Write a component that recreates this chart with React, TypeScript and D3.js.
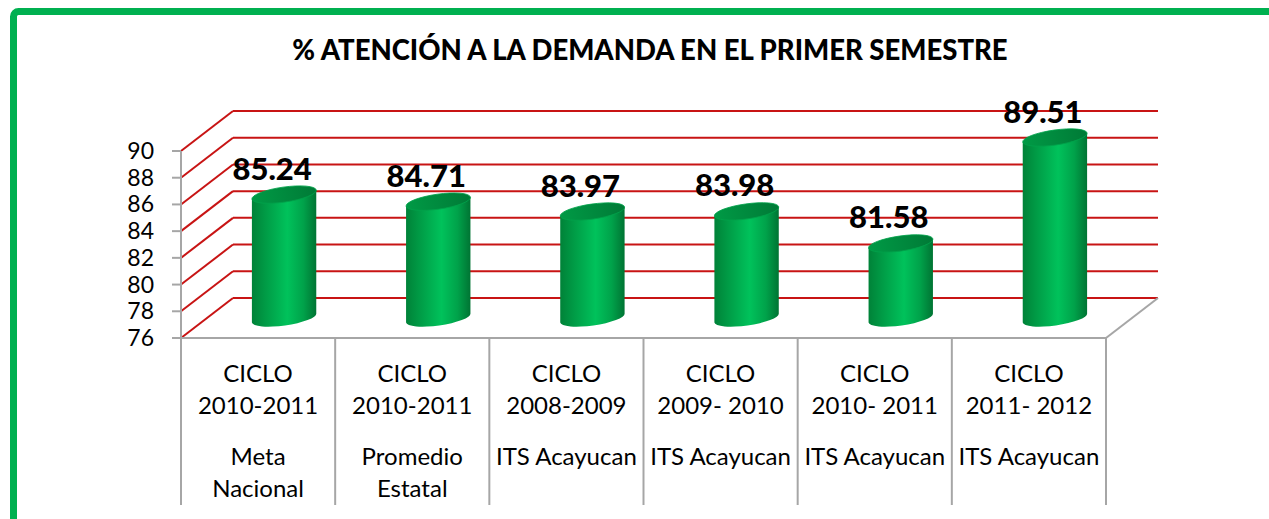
import React from "react";
import * as d3 from "d3";

const title = "% ATENCIÓN A LA DEMANDA EN EL PRIMER SEMESTRE";
const cycleWord = ["CICLO", "CICLO", "CICLO", "CICLO", "CICLO", "CICLO"];
const cycles = ["2010-2011", "2010-2011", "2008-2009", "2009- 2010", "2010- 2011", "2011- 2012"];
const groups = [["Meta", "Nacional"], ["Promedio", "Estatal"], ["ITS Acayucan"], ["ITS Acayucan"], ["ITS Acayucan"], ["ITS Acayucan"]];
const values = [85.24, 84.71, 83.97, 83.98, 81.58, 89.51];
const yTicks = [76, 78, 80, 82, 84, 86, 88, 90];

const W = 1269, H = 519;
const left = 181, right = 1106, top = 151, bottom = 338;
const DX = 52, DY = -40;
const RED = "#c81414";
const GRAY = "#a6a6a6";
const FONT = "Lato, 'Open Sans', sans-serif";

export default function App() {
  const y = d3.scaleLinear().domain([76, 90]).range([bottom, top]);
  const x = d3.scaleBand<number>().domain(values.map((_, i) => i)).range([left, right]);
  const bw = x.bandwidth();
  const rx = 32.5, ry = 7.5, phi = -8;
  const pr = (phi * Math.PI) / 180;
  const ex = rx * Math.cos(pr), ey = rx * Math.sin(pr);

  return (
    <svg width={W} height={H} style={{ position: "absolute", left: 0, top: 0, background: "#fff" }}>
      <defs>
        <linearGradient id="body" x1="0" x2="1" y1="0" y2="0">
          <stop offset="0" stopColor="#008238" />
          <stop offset="0.2" stopColor="#009a45" />
          <stop offset="0.55" stopColor="#00c25b" />
          <stop offset="0.8" stopColor="#00a24a" />
          <stop offset="1" stopColor="#007433" />
        </linearGradient>
        <linearGradient id="topg" x1="0" x2="1" y1="0" y2="0">
          <stop offset="0" stopColor="#009a45" />
          <stop offset="0.5" stopColor="#008a3e" />
          <stop offset="1" stopColor="#007a36" />
        </linearGradient>
      </defs>
      <rect x={13.5} y={11.5} width={1400} height={700} rx={5} fill="none" stroke="#00b050" strokeWidth={7} />
      <text x={650} y={60} textAnchor="middle" fontFamily={FONT} fontWeight={900} fontSize={27.5} fill="#000">{title}</text>

      {/* back wall gridlines and left-side diagonals */}
      {yTicks.map((t) => (
        <g key={t}>
          <line x1={left + DX} x2={right + DX} y1={y(t) + DY} y2={y(t) + DY} stroke={RED} strokeWidth={2} />
          <line x1={left} x2={left + DX} y1={y(t)} y2={y(t) + DY} stroke={RED} strokeWidth={2} />
        </g>
      ))}
      {/* floor edges */}
      <line x1={right} y1={bottom} x2={right + DX} y2={bottom + DY} stroke={GRAY} strokeWidth={2} />
      <line x1={left} y1={bottom} x2={right} y2={bottom} stroke={GRAY} strokeWidth={2} />
      {/* y axis */}
      <line x1={left} y1={top} x2={left} y2={bottom} stroke={GRAY} strokeWidth={2} />
      {yTicks.map((t) => (
        <g key={"t" + t}>
          <line x1={left - 9} x2={left} y1={y(t)} y2={y(t)} stroke={GRAY} strokeWidth={2} />
          <text x={154} y={y(t) + 8} textAnchor="end" fontFamily={FONT} fontSize={23} fill="#000">{t}</text>
        </g>
      ))}
      {/* category separators */}
      {d3.range(values.length + 1).map((i) => {
        const xx = i < values.length ? (x(i) as number) : right;
        return <line key={"s" + i} x1={xx} x2={xx} y1={bottom} y2={505} stroke={GRAY} strokeWidth={2} />;
      })}

      {/* cylinders */}
      {values.map((v, i) => {
        const cx = (x(i) as number) + bw / 2 + DX / 2;
        const by = bottom + DY / 2;
        const ty = y(v) + DY / 2;
        const body = `M${cx - ex},${ty - ey} L${cx - ex},${by - ey} A${rx},${ry} ${phi} 0 0 ${cx + ex},${by + ey} L${cx + ex},${ty + ey} Z`;
        return (
          <g key={"b" + i}>
            <path d={body} fill="url(#body)" />
            <ellipse cx={cx} cy={ty} rx={rx} ry={ry} transform={`rotate(${phi},${cx},${ty})`} fill="url(#topg)" stroke="#00a24a" strokeWidth={0.8} />
            <text x={cx - 12} y={ty - 15} textAnchor="middle" fontFamily={FONT} fontWeight={900} fontSize={31} fill="#000">{v.toFixed(2)}</text>
          </g>
        );
      })}

      {/* category labels */}
      {values.map((_, i) => {
        const cx = (x(i) as number) + bw / 2;
        return (
          <g key={"c" + i} fontFamily={FONT} fontSize={24} fill="#000" textAnchor="middle">
            <text x={cx} y={382}>{cycleWord[i]}</text>
            <text x={cx} y={414}>{cycles[i]}</text>
            {groups[i].map((g, j) => (
              <text key={j} x={cx} y={465 + j * 32}>{g}</text>
            ))}
          </g>
        );
      })}
    </svg>
  );
}
